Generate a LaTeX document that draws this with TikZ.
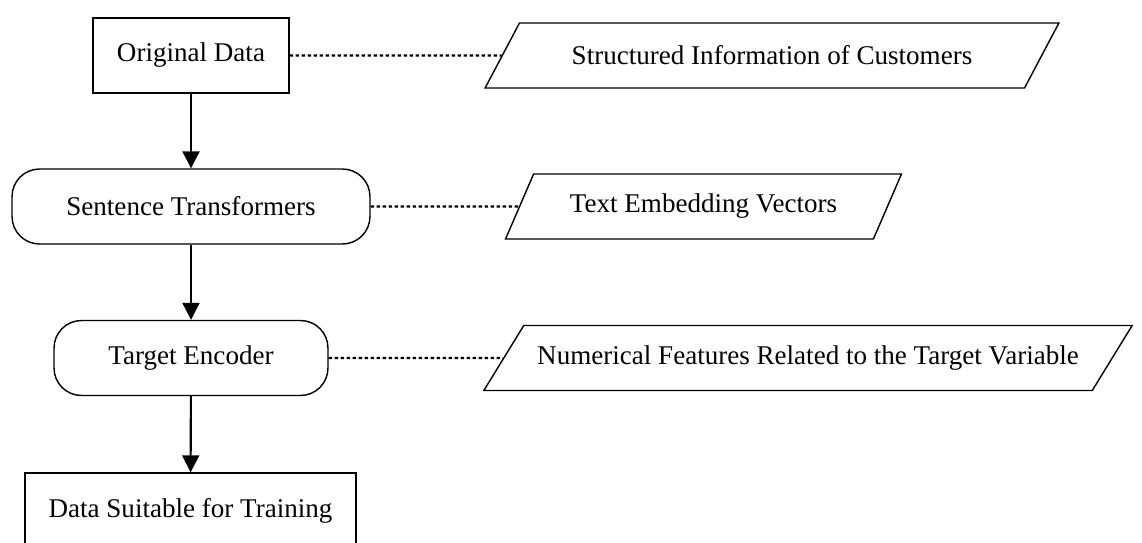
\documentclass[tikz,border=0pt]{standalone}
\usepackage{fontspec}
\setmainfont{Liberation Serif}
\usetikzlibrary{arrows.meta,shapes.geometric}
\begin{document}
\begin{tikzpicture}[x=0.02cm,y=-0.02cm,font=\fontsize{15.4}{18}\selectfont,
  procbox/.style={draw,line width=0.8pt,minimum height=1.5cm},
  roundbox/.style={procbox,rounded corners=0.55cm},
  iobox/.style={draw,line width=0.8pt,trapezium,trapezium stretches=true,minimum height=1.3cm,inner xsep=0pt},
  flow/.style={line width=1.2pt,-{Triangle[length=0.34cm,width=0.34cm]}},
  link/.style={line width=1.2pt,dash pattern=on 0.07cm off 0.05cm}]
\useasboundingbox (0,0) rectangle (1142,542);
% main steps
\node[procbox,minimum width=3.92cm] (orig) at (191,55.5) {Original Data};
\node[roundbox,minimum width=7.16cm] (sbert) at (191,206.5) {Sentence Transformers};
\node[roundbox,minimum width=5.48cm] (tenc) at (191,358) {Target Encoder};
\node[procbox,minimum width=6.62cm] (train) at (190.5,510.5) {Data Suitable for Training};
% outputs
\node[iobox,trapezium left angle=48.7,trapezium right angle=131.3,minimum width=11.48cm] (info) at (772,55.5) {Structured Information of Customers};
\node[iobox,trapezium left angle=58.7,trapezium right angle=121.3,minimum width=7.94cm] (embed) at (703.5,206.5) {Text Embedding Vectors};
\node[iobox,trapezium left angle=43.7,trapezium right angle=136.3,minimum width=13.0cm] (numfeat) at (808,358) {Numerical Features Related to the Target Variable};
\draw[flow] (orig) -- (sbert);
\draw[flow] (sbert) -- (tenc);
\draw[flow] (tenc) -- (train);
\draw[link] (orig) -- (info);
\draw[link] (sbert) -- (embed);
\draw[link] (tenc) -- (numfeat);
\end{tikzpicture}
\end{document}
